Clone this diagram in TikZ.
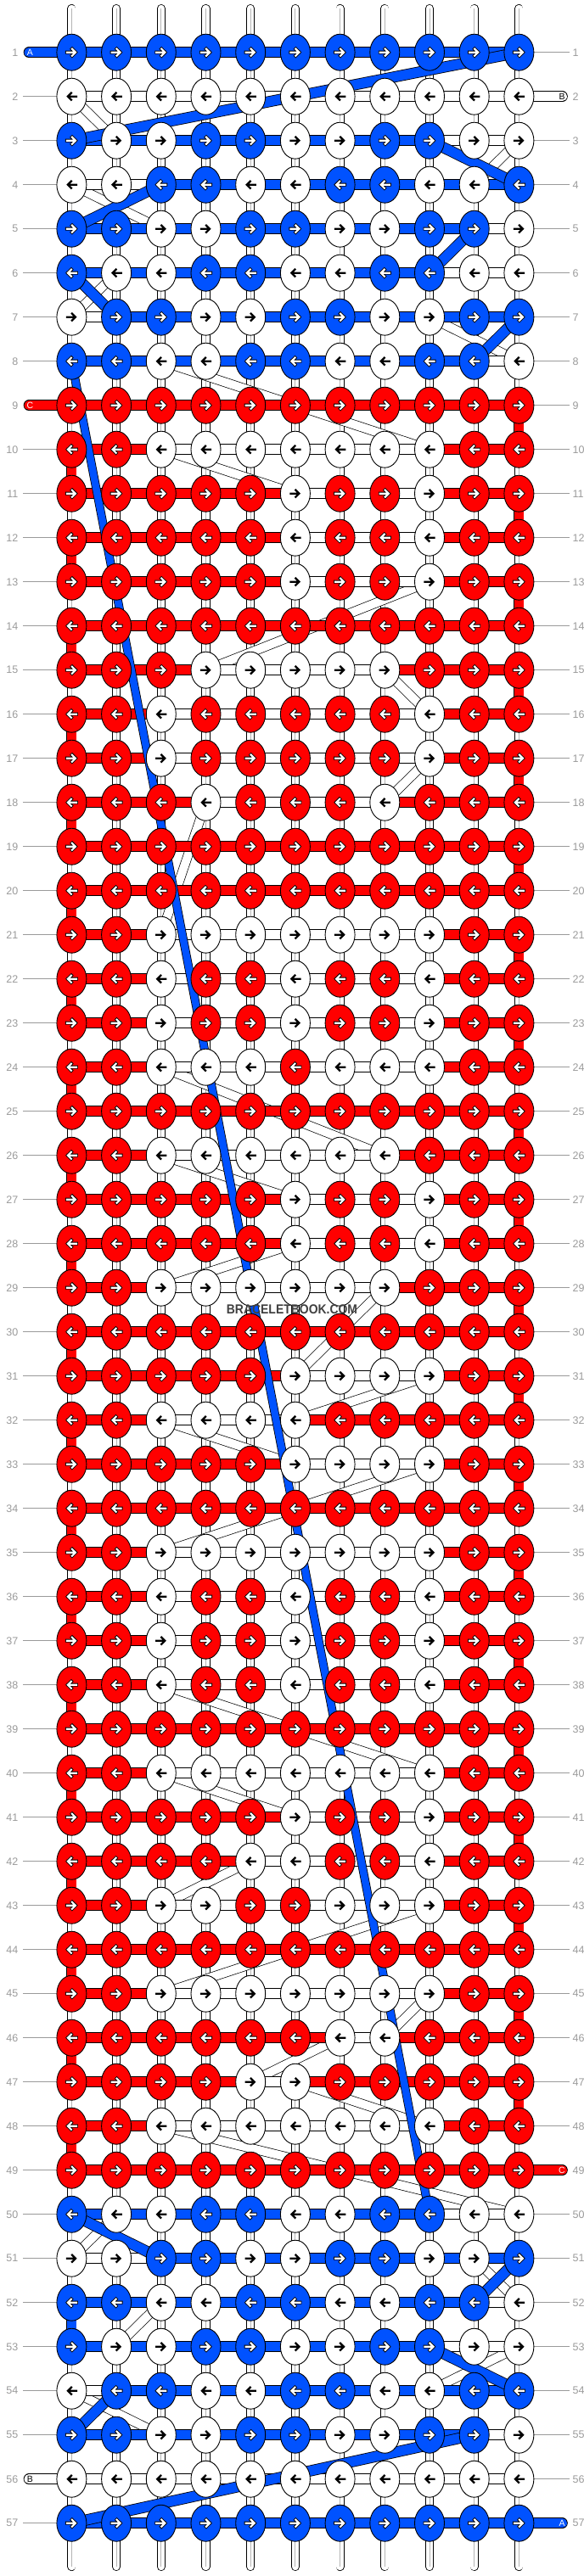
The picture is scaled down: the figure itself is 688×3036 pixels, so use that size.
\documentclass[tikz,border=0pt]{standalone}
\usepackage{fontspec}
\setmainfont{Liberation Sans}
\usepackage{graphicx}
\usetikzlibrary{shapes.geometric}
\definecolor{R}{HTML}{FF0000}
\definecolor{B}{HTML}{0052FF}
\definecolor{W}{HTML}{FFFFFF}
\definecolor{lab}{HTML}{9A9A9A}
\definecolor{strandgray}{HTML}{B4B4B4}
\definecolor{wmgray}{HTML}{404040}
\pgfdeclarelayer{strands}
\pgfdeclarelayer{wband}
\pgfdeclarelayer{bars}
\pgfdeclarelayer{aband}
\pgfdeclarelayer{top}
\pgfsetlayers{strands,wband,bars,aband,main,top}
\tikzset{
 knot/.style={ellipse, draw=black, line width=0.9pt, minimum width=35pt, minimum height=43pt, inner sep=0pt, fill=#1},
 hbar/.style={draw=black, line width=0.8pt, double=#1, double distance=11pt},
 vbar/.style={draw=black, line width=0.8pt, double=#1, double distance=10.5pt},
 wthread/.style={draw=black, line width=0.7pt, double=white, double distance=10pt},
 athread/.style={draw=black, line width=0.8pt, double=B, double distance=11.5pt},
 along/.style={draw=black, line width=0.8pt, double=B, double distance=8.5pt},
 strand/.style={draw=black, line width=0.8pt, double=white, double distance=8.5pt, line cap=round},
 strandmid/.style={draw=strandgray, line width=1pt},
 rowline/.style={draw=lab, line width=0.9pt},
 rowlab/.style={text=lab, font=\fontsize{12.5}{14}\selectfont, inner sep=0pt},
 endbar/.style={draw=black, line width=0.8pt, double=#1, double distance=11pt, line cap=round},
 endlab/.style={font=\fontsize{10.5}{12}\selectfont, inner sep=0pt},
 arrowblack/.style={draw=black, line width=2.3pt, line join=miter, line cap=rect},
 arrowout/.style={draw=black, line width=4pt, line join=miter, line cap=rect},
 arrowin/.style={draw=white, line width=2.2pt, line join=miter, line cap=rect},
}
\def\Wlet{W}
\makeatletter
\newcount\kcol
\newcommand\knotrow[2]{%
  \pgfmathsetmacro\yy{61.7+52*(#1-1)}%
  \ifodd#1\relax\def\dir{1}\else\def\dir{-1}\fi
  \kcol=0
  \@tfor\ch:=#2\do{%
    \advance\kcol by 1
    \edef\cc{\the\kcol}%
    \pgfmathsetmacro\xx{84.4+52.7*(\cc-1)}%
    \node[knot=\ch] (k-#1-\cc) at (\xx,\yy) {};
    \ifx\ch\Wlet
      \draw[arrowblack, shift={(k-#1-\cc.center)}, xscale=\dir] (-5.5,0) -- (4,0) (0.5,-4) -- (4.5,0) -- (0.5,4);
    \else
      \draw[arrowout, shift={(k-#1-\cc.center)}, xscale=\dir] (-5.5,0) -- (4,0) (0.5,-4) -- (4.5,0) -- (0.5,4);
      \draw[arrowin, shift={(k-#1-\cc.center)}, xscale=\dir] (-5.5,0) -- (4,0) (0.5,-4) -- (4.5,0) -- (0.5,4);
    \fi
  }%
}
\newcommand\barrow[2]{%
  \kcol=0
  \@tfor\ch:=#2\do{%
    \advance\kcol by 1
    \edef\ca{\the\kcol}%
    \edef\cb{\the\numexpr\kcol+1\relax}%
    \draw[hbar=\ch] (k-#1-\ca.center) -- (k-#1-\cb.center);
  }%
}
\makeatother
\def\rowdata{1/BBBBBBBBBBB/BBBBBBBBBB,
2/WWWWWWWWWWW/WWWWWWWWWW,
3/BWWBBWWBBWW/BBBBBBBBWW,
4/WWBBWWBBWWB/WWBBBBBBBB,
5/BBWWBBWWBBW/BBBBBBBBBW,
6/BWWBBWWBBWW/BBBBBBBBWW,
7/WBBWWBBWWBB/WBBBBBBBBB,
8/BBWWBBWWBBW/BBBBBBBBBW,
9/RRRRRRRRRRR/RRRRRRRRRR,
10/RRWWWWWWWRR/RRWWWWWWRR,
11/RRRRRWRRWRR/RRRRRWWWRR,
12/RRRRRWRRWRR/RRRRRWWWRR,
13/RRRRRWRRWRR/RRRRRWWWRR,
14/RRRRRRRRRRR/RRRRRRRRRR,
15/RRRWWWWWRRR/RRRWWWWRRR,
16/RRWRRRRRWRR/RRWWWWWWRR,
17/RRWRRRRRWRR/RRWWWWWWRR,
18/RRRWRRRWRRR/RRRWWWWRRR,
19/RRRRRRRRRRR/RRRRRRRRRR,
20/RRRRRRRRRRR/RRRRRRRRRR,
21/RRWWWWWWWRR/RRWWWWWWRR,
22/RRWRRWRRWRR/RRWWWWWWRR,
23/RRWRRWRRWRR/RRWWWWWWRR,
24/RRWWWRWWWRR/RRWWWWWWRR,
25/RRRRRRRRRRR/RRRRRRRRRR,
26/RRWWWWWWRRR/RRWWWWWRRR,
27/RRRRRWRRWRR/RRRRRWWWRR,
28/RRRRRWRRWRR/RRRRRWWWRR,
29/RRWWWWWWRRR/RRWWWWWRRR,
30/RRRRRRRRRRR/RRRRRRRRRR,
31/RRRRRWWWWRR/RRRRRWWWRR,
32/RRWWWWRRRRR/RRWWWRRRRR,
33/RRRRRWWWWRR/RRRRRWWWRR,
34/RRRRRRRRRRR/RRRRRRRRRR,
35/RRWWWWWWWRR/RRWWWWWWRR,
36/RRWRRWRRWRR/RRWWWWWWRR,
37/RRWRRWRRWRR/RRWWWWWWRR,
38/RRWRRWRRWRR/RRWWWWWWRR,
39/RRRRRRRRRRR/RRRRRRRRRR,
40/RRWWWWWWWRR/RRWWWWWWRR,
41/RRRRRWRRWRR/RRRRRWWWRR,
42/RRRRWWRRWRR/RRRRWWWWRR,
43/RRWWRRWWWRR/RRWWWWWWRR,
44/RRRRRRRRRRR/RRRRRRRRRR,
45/RRWWWWWWWRR/RRWWWWWWRR,
46/RRRRRRWWRRR/RRRRRRWRRR,
47/RRRRWWRRRRR/RRRRWRRRRR,
48/RRWWWWWWWRR/RRWWWWWWRR,
49/RRRRRRRRRRR/RRRRRRRRRR,
50/BWWBBWWBBWW/BBBBBBBBWW,
51/WWBBWWBBWWB/WWBBBBBBBB,
52/BBWWBBWWBBW/BBBBBBBBBW,
53/BWWBBWWBBWW/BBBBBBBBWW,
54/WBBWWBBWWBB/WBBBBBBBBB,
55/BBWWBBWWBBW/BBBBBBBBBW,
56/WWWWWWWWWWW/WWWWWWWWWW,
57/BBBBBBBBBBB/BBBBBBBBBB}
\begin{document}
\begin{tikzpicture}[x=1pt,y=-1pt]
\useasboundingbox (0,0) rectangle (688,3036);
% knots and arrows
\foreach \r/\ks/\bs in \rowdata {\edef\doit{\noexpand\knotrow{\r}{\ks}}\doit}
% horizontal bars
\begin{pgfonlayer}{bars}
\foreach \r/\ks/\bs in \rowdata {\edef\doit{\noexpand\barrow{\r}{\bs}}\doit}
\foreach \r in {9,...,48}{%
  \pgfmathtruncatemacro\rn{\r+1}%
  \ifodd\r\relax\def\cc{11}\else\def\cc{1}\fi
  \draw[vbar=R] (k-\r-\cc.center) -- (k-\rn-\cc.center);
}
\draw[vbar=B] (k-52-1.center) -- (k-53-1.center);
% thread ends
\coordinate (endA1) at (34,61.7);
\draw[endbar=B] (endA1) -- (k-1-1.center);
\coordinate (endB2) at (662.5,113.7);
\draw[endbar=W] (k-2-11.center) -- (endB2);
\coordinate (endC9) at (34,477.7);
\draw[endbar=R] (endC9) -- (k-9-1.center);
\coordinate (endC49) at (662.5,2557.7);
\draw[endbar=R] (k-49-11.center) -- (endC49);
\coordinate (endB56) at (34,2921.7);
\draw[endbar=W] (endB56) -- (k-56-1.center);
\coordinate (endA57) at (662.5,2973.7);
\draw[endbar=B] (k-57-11.center) -- (endA57);
\end{pgfonlayer}
% base strands and row lines
\begin{pgfonlayer}{strands}
\foreach \c in {1,...,11}{%
  \pgfmathsetmacro\xx{84.4+52.7*(\c-1)}%
  \coordinate (st-\c) at (\xx,10);
  \coordinate (sb-\c) at (\xx,3025);
  \draw[strand] (st-\c) -- (sb-\c);
  \draw[strandmid] (st-\c) -- (sb-\c);
}
\foreach \r in {1,...,57}{%
  \pgfmathsetmacro\yy{61.7+52*(\r-1)}%
  \pgfmathtruncatemacro\hasleft{(\r==1)||(\r==9)||(\r==56) ? 0 : 1}%
  \pgfmathtruncatemacro\hasright{(\r==2)||(\r==49)||(\r==57) ? 0 : 1}%
  \node[rowlab, anchor=east] (ll-\r) at (21.5,\yy) {\r};
  \node[rowlab, anchor=west] (rl-\r) at (674.5,\yy) {\r};
  \ifnum\hasleft=1 \draw[rowline] ([xshift=5.5pt]ll-\r.east) -- (k-\r-1.west);\fi
  \ifnum\hasright=1 \draw[rowline] (k-\r-11.east) -- ([xshift=-3.5pt]rl-\r.west);\fi
}
\end{pgfonlayer}
% white thread transitions
\begin{pgfonlayer}{wband}
\foreach \ra/\ca/\rb/\cb in {2/1/3/2, 3/11/4/10, 4/1/5/3, 6/2/7/1, 7/9/8/11, 8/3/10/9, 10/3/11/6, 13/9/15/4, 15/8/16/9, 17/9/18/8, 18/4/21/3, 24/3/26/8, 26/3/27/6, 28/6/29/3, 29/8/31/6, 31/9/32/6, 32/3/33/6, 33/9/35/3, 38/3/40/9, 40/3/41/6, 42/5/43/3, 43/9/45/3, 45/9/46/8, 46/7/47/5, 47/6/48/9, 48/3/50/11, 50/2/51/1, 51/10/52/11, 52/3/53/2, 53/11/54/9, 54/1/55/3}
  \draw[wthread] (k-\ra-\ca.center) -- (k-\rb-\cb.center);
\end{pgfonlayer}
% blue thread transitions
\begin{pgfonlayer}{aband}
\foreach \ra/\ca/\rb/\cb in {1/11/3/1, 3/9/4/11, 4/3/5/1, 5/10/6/9, 6/1/7/2, 7/11/8/10, 50/1/51/3, 51/11/52/10, 53/9/54/11, 54/2/55/1, 55/10/57/1}
  \draw[athread] (k-\ra-\ca.center) -- (k-\rb-\cb.center);
\draw[along] (k-8-1.center) -- (k-50-9.center);
\end{pgfonlayer}
% labels
\begin{pgfonlayer}{top}
\node[endlab, text=white] (labA1) at (35.5,61.7) {A};
\node[endlab, text=black] (labB2) at (662,113.7) {B};
\node[endlab, text=white] (labC9) at (35.5,477.7) {C};
\node[endlab, text=white] (labC49) at (662,2557.7) {C};
\node[endlab, text=black] (labB56) at (35.5,2921.7) {B};
\node[endlab, text=white] (labA57) at (662,2973.7) {A};
\node[font=\bfseries\fontsize{15.5}{17}\selectfont, text=wmgray, inner sep=0pt] (wm) at (344,1543) {\scalebox{0.9}[1]{BRACELETBOOK.COM}};
\end{pgfonlayer}
\end{tikzpicture}
\end{document}
